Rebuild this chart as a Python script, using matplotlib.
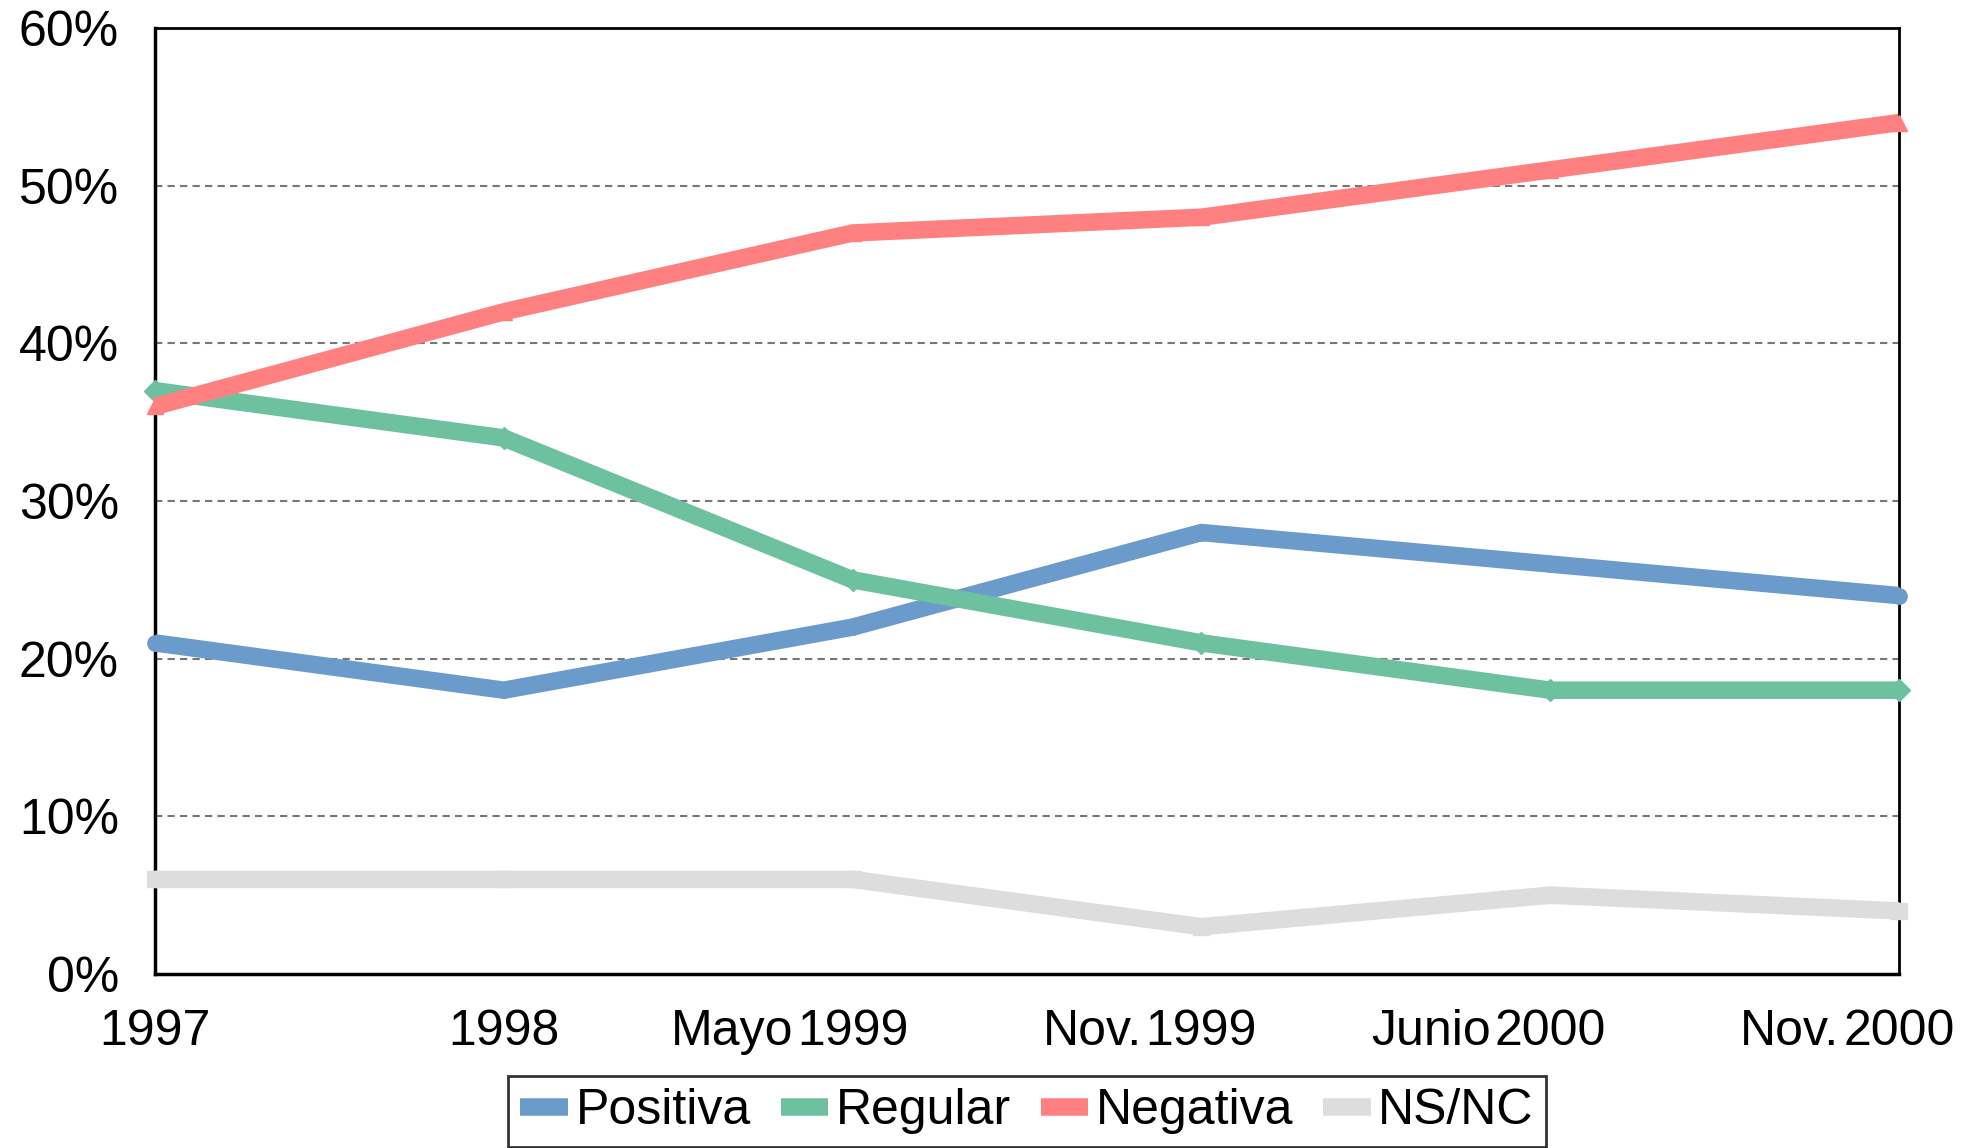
import matplotlib
matplotlib.use("Agg")
import matplotlib.pyplot as plt
from matplotlib.ticker import FuncFormatter

plt.rcParams["font.family"] = ["Liberation Sans", "DejaVu Sans"]

# categories: year part centred on the tick, prefix drawn to its left
years = ["1997", "1998", "1999", "1999", "2000", "2000"]
prefixes = ["", "", "Mayo", "Nov.", "Junio", "Nov."]

positiva = [21, 18, 22, 28, 26, 24]
regular = [37, 34, 25, 21, 18, 18]
negativa = [36, 42, 47, 48, 51, 54]
nsnc = [6, 6, 6, 3, 5, 4]

series = [
    ("Positiva", positiva, "#6A9BCB", "o"),
    ("Regular", regular, "#6DC19F", "D"),
    ("Negativa", negativa, "#FF8080", "^"),
    ("NS/NC", nsnc, "#DDDDDD", "s"),
]

fig = plt.figure(figsize=(19.79, 11.48), dpi=100)
ax = fig.add_axes([155 / 1979, 1 - 974 / 1148, (1899 - 155) / 1979, (974 - 28) / 1148])

x = list(range(len(years)))
for name, vals, col, mk in series:
    ax.plot(x, vals, color=col, lw=12.6, marker=mk, ms=11,
            mfc=col, mec=col, solid_joinstyle="miter",
            solid_capstyle="butt", clip_on=False, zorder=3, label=name)

ax.set_xlim(0, 5)
ax.set_ylim(0, 60)
ax.set_yticks(range(0, 61, 10))
ax.yaxis.set_major_formatter(FuncFormatter(lambda v, _: f"{v:.0f}%"))
ax.set_xticks(x)
ax.set_xticklabels(years)
ax.tick_params(axis="both", length=0, labelsize=36)
ax.tick_params(axis="y", pad=26)
ax.tick_params(axis="x", pad=25)

for yv in range(10, 60, 10):
    ax.axhline(yv, color="#777777", lw=1.5, ls=(0, (3.5, 2.5)), zorder=1)

for s in ["left", "bottom"]:
    ax.spines[s].set_linewidth(2.5)
for s in ["top", "right"]:
    ax.spines[s].set_linewidth(2)

# prefix text ("Mayo", "Nov.", ...) placed left of the year label
fig.canvas.draw()
renderer = fig.canvas.get_renderer()
inv = fig.transFigure.inverted()
for lab, pre in zip(ax.get_xticklabels(), prefixes):
    if not pre:
        continue
    bb = lab.get_window_extent(renderer)
    fx, fy = inv.transform((bb.x0 - 4, bb.y0 + bb.height / 2))
    fig.text(fx, fy, pre, ha="right", va="center", fontsize=36)

leg = fig.legend(handles=[plt.Line2D([], [], color=c, lw=12.6, solid_capstyle="butt")
                          for _, _, c, _ in series],
                 labels=[n for n, _, _, _ in series],
                 loc="upper center", bbox_to_anchor=(0.519, 1 - 1076 / 1148),
                 ncol=4, fontsize=36, frameon=True, fancybox=False,
                 handlelength=0.95, handletextpad=0.15, columnspacing=0.6,
                 borderpad=0.25, borderaxespad=0)
leg.get_frame().set_edgecolor("black")
leg.get_frame().set_linewidth(2)

fig.savefig("out.png", dpi=100)
